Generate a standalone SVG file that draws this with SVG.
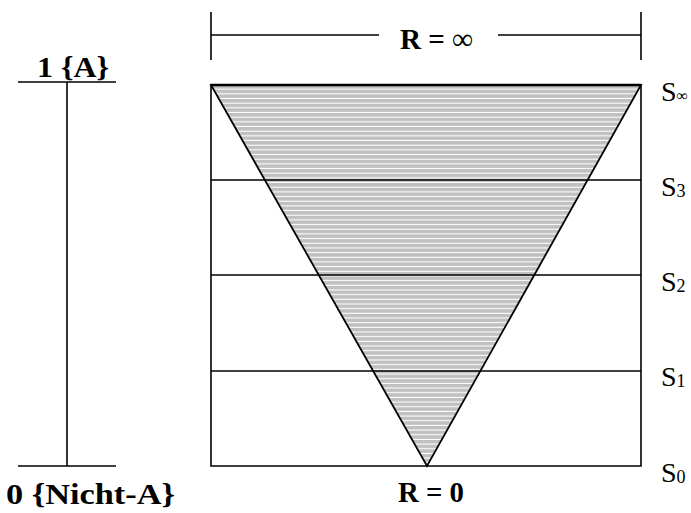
<svg xmlns="http://www.w3.org/2000/svg" width="691" height="513" viewBox="0 0 691 513">
<style>
.ln{stroke:#000;stroke-width:1.6;fill:none}
.b{font-family:"Liberation Serif","DejaVu Serif",serif;font-weight:bold;font-size:30px;fill:#000}
.s{font-family:"Liberation Serif","DejaVu Serif",serif;font-size:28px;fill:#000}
.sub{font-size:18px}
.inf{font-size:16px}
</style>
<defs>
<pattern id="hatch" patternUnits="userSpaceOnUse" x="0" y="85" width="10" height="4.67">
<rect width="10" height="4.67" fill="#c0c0c0"/>
<rect y="3.6" width="10" height="1.07" fill="#fff"/>
</pattern>
</defs>
<rect width="691" height="513" fill="#fff"/>
<g id="triangle">
<polygon points="211,85 641,85 427,466" fill="url(#hatch)" stroke="#000" stroke-width="1.8"/>
</g>
<g id="connectors">
<path class="ln" d="M211,85 V466 H641 V85"/>
<line x1="211" y1="85" x2="641" y2="85" stroke="#000" stroke-width="2.4"/>
<line class="ln" x1="211" y1="180" x2="641" y2="180"/>
<line class="ln" x1="211" y1="275" x2="641" y2="275"/>
<line class="ln" x1="211" y1="371" x2="641" y2="371"/>
<line class="ln" x1="211" y1="12" x2="211" y2="60"/>
<line class="ln" x1="641" y1="12" x2="641" y2="60"/>
<line class="ln" x1="211" y1="35" x2="379" y2="35"/>
<line class="ln" x1="498" y1="35" x2="641" y2="35"/>
<line class="ln" x1="67" y1="82" x2="67" y2="466"/>
<line class="ln" x1="18" y1="82" x2="116" y2="82"/>
<line class="ln" x1="18" y1="466" x2="116" y2="466"/>
</g>
<g id="labels">
<text class="b" x="400" y="49" textLength="73" lengthAdjust="spacingAndGlyphs">R = ∞</text>
<text class="b" x="398" y="502" textLength="66" lengthAdjust="spacingAndGlyphs">R = 0</text>
<text class="b" x="37" y="77" textLength="72" lengthAdjust="spacingAndGlyphs">1 {A}</text>
<text class="b" x="6" y="504" textLength="169" lengthAdjust="spacingAndGlyphs">0 {Nicht-A}</text>
<text class="s" x="661" y="101">S<tspan class="inf" dy="0">∞</tspan></text>
<text class="s" x="661" y="196">S<tspan class="sub" dy="1">3</tspan></text>
<text class="s" x="661" y="291">S<tspan class="sub" dy="1">2</tspan></text>
<text class="s" x="661" y="386">S<tspan class="sub" dy="1">1</tspan></text>
<text class="s" x="661" y="482">S<tspan class="sub" dy="1">0</tspan></text>
</g>
</svg>
